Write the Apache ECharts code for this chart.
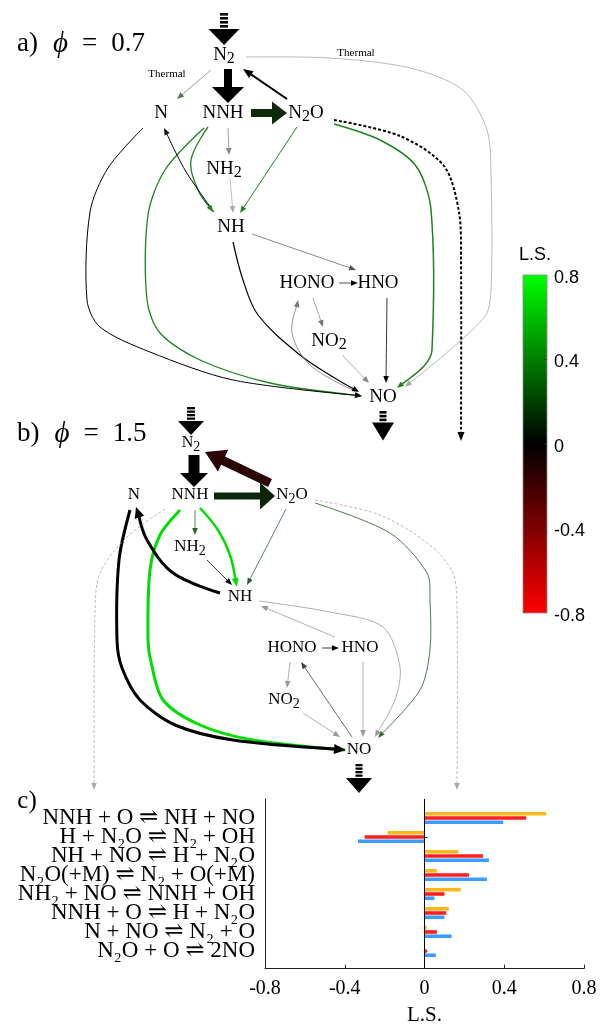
<!DOCTYPE html>
<html>
<head>
<meta charset="utf-8">
<script src="https://cdn.jsdelivr.net/npm/echarts@6/dist/echarts.min.js"></script>
<style>
html,body{margin:0;padding:0;background:#fff}
#main{width:600px;height:1028px}
</style>
</head>
<body>
<div id="main"></div>
<script>
// panel c data
var reactions = ['NNH + O ⇌ NH + NO', 'H + N₂O ⇌ N₂ + OH', 'NH + NO ⇌ H + N₂O', 'N₂O(+M) ⇌ N₂ + O(+M)',
  'NH₂ + NO ⇌ NNH + OH', 'NNH + O ⇌ H + N₂O', 'N + NO ⇌ N₂ + O', 'N₂O + O ⇌ 2NO'];
var lsYellow = [0.61, -0.185, 0.17, 0.062, 0.182, 0.122, 0.012, 0.002];
var lsRed = [0.51, -0.30, 0.293, 0.223, 0.10, 0.109, 0.062, 0.012];
var lsBlue = [0.395, -0.334, 0.323, 0.313, 0.05, 0.10, 0.136, 0.057];
var lsTicks = [-0.8, -0.4, 0, 0.4, 0.8];
var cbTicks = [0.8, 0.4, 0, -0.4, -0.8];

var SERIF = '"Liberation Serif", "DejaVu Serif", serif';
var SANS = '"Liberation Sans", Arial, sans-serif';
var G = [];
var ctx = document.createElement('canvas').getContext('2d');

// species label, digits set as lowered subscripts
function node(x, y, lab, size) {
  var parts = lab.split(/(\d)/).filter(Boolean);
  var sub = Math.round(size * 0.85);
  var w = parts.map(function (p) {
    ctx.font = (/\d/.test(p) ? sub : size) + 'px ' + SERIF;
    return ctx.measureText(p).width;
  });
  var cx = x - w.reduce(function (a, b) { return a + b; }, 0) / 2;
  parts.forEach(function (p, i) {
    var d = /\d/.test(p);
    G.push({type: 'text', x: cx, y: y + (d ? 4 : 0), z: 20, style: {text: p, font: (d ? sub : size) + 'px ' + SERIF,
      fill: '#000', align: 'left', textAlign: 'left', verticalAlign: 'middle', textVerticalAlign: 'middle'}});
    cx += w[i];
  });
}
function label(x, y, s, size, fam, align) {
  G.push({type: 'text', x: x, y: y, z: 20, style: {text: s, font: size + 'px ' + (fam || SERIF), fill: '#000',
    align: align || 'center', textAlign: align || 'center', verticalAlign: 'middle', textVerticalAlign: 'middle'}});
}
function head(p0, p1, color, L, W) {
  var dx = p1[0] - p0[0], dy = p1[1] - p0[1], d = Math.hypot(dx, dy), ux = dx / d, uy = dy / d;
  var bx = p1[0] - ux * L, by = p1[1] - uy * L;
  G.push({type: 'polygon', z: 6, shape: {points: [[p1[0], p1[1]], [bx - uy * W, by + ux * W], [bx + uy * W, by - ux * W]]},
    style: {fill: color}});
}
function edge(pts, color, w, o) {
  o = o || {};
  var L = o.L || 7, W = o.W || 2.8;
  var p = pts.slice();
  if (o.head !== false) {
    var a = p[p.length - 2], b = p[p.length - 1];
    var dx = b[0] - a[0], dy = b[1] - a[1], d = Math.hypot(dx, dy);
    p[p.length - 1] = [b[0] - dx / d * L * 0.7, b[1] - dy / d * L * 0.7];
  }
  G.push({type: 'polyline', z: 5, shape: {points: p, smooth: o.smooth == null ? 0.35 : o.smooth},
    style: {stroke: color, lineWidth: w, fill: 'none', lineDash: o.dash || null}});
  if (o.head !== false) head(pts[pts.length - 2], pts[pts.length - 1], o.hc || color, L, W);
}
function block(x0, y0, x1, y1, sw, hw, hl, color) {
  var dx = x1 - x0, dy = y1 - y0, d = Math.hypot(dx, dy), ux = dx / d, uy = dy / d, nx = -uy, ny = ux;
  var bx = x1 - ux * hl, by = y1 - uy * hl, s = sw / 2, h = hw / 2;
  G.push({type: 'polygon', z: 7, shape: {points: [
    [x0 + nx * s, y0 + ny * s], [bx + nx * s, by + ny * s], [bx + nx * h, by + ny * h], [x1, y1],
    [bx - nx * h, by - ny * h], [bx - nx * s, by - ny * s], [x0 - nx * s, y0 - ny * s]]}, style: {fill: color}});
}
function flow(cx, top, bw, n, barH, gap, tw, th) {
  for (var i = 0; i < n; i++) {
    G.push({type: 'rect', z: 7, shape: {x: cx - bw / 2, y: top + i * (barH + gap), width: bw, height: barH}, style: {fill: '#000'}});
  }
  var t0 = top + n * (barH + gap);
  G.push({type: 'polygon', z: 7, shape: {points: [[cx - tw / 2, t0], [cx + tw / 2, t0], [cx, t0 + th]]}, style: {fill: '#000'}});
}
function panelLabel(x, y, letter, val) {
  G.push({type: 'text', x: x, y: y, z: 20, style: {
    text: '{t|' + letter + ')}{i|ϕ}{e|=}{v|' + val + '}', align: 'left', textAlign: 'left', verticalAlign: 'middle', textVerticalAlign: 'middle', fill: '#000',
    rich: {
      t: {fontFamily: SERIF, fontSize: 27, padding: [0, 15, 0, 0]},
      i: {fontFamily: SERIF, fontSize: 29, fontStyle: 'italic', padding: [0, 14, 0, 0]},
      e: {fontFamily: SERIF, fontSize: 27, padding: [0, 14, 0, 0]},
      v: {fontFamily: SERIF, fontSize: 27}
    }}});
}

var GR = '#1e821e', LG = '#00dd00', DG = '#2f5f2f';

// ---------- panel a ----------
panelLabel(17, 44, 'a', '0.7');
flow(224, 13, 8, 4, 2.6, 1.4, 31, 16);
block(228, 69, 228, 103, 8, 32, 16, '#000');
block(251, 113, 287, 113, 8, 23, 15, '#0f2a0a');
edge([[287, 99], [243, 69]], '#000', 2, {L: 10, W: 4});
edge([[211, 70], [177, 99]], '#4d7a4d', 0.7);
edge([[246, 57], [330, 58], [410, 68], [463, 90], [487, 130], [491, 175], [491, 290], [484, 318], [405, 387]], '#a8a8a8', 0.8, {smooth: 0.3});
edge([[334, 124], [380, 140], [416, 166], [431, 210], [432, 350], [424, 366], [397, 388]], GR, 1.5, {smooth: 0.3});
edge([[334, 120], [400, 136], [444, 166], [459, 212], [461, 260], [461, 441]], '#000', 2, {dash: [3, 2], smooth: 0.3, L: 9, W: 3.5});
edge([[297, 127], [240, 213]], GR, 1);
edge([[228, 128], [229, 155]], '#888', 0.8);
edge([[230, 178], [233, 213]], '#aaa', 0.8);
edge([[208, 127], [191, 160], [198, 190], [213, 212]], GR, 1.3);
edge([[204, 128], [165, 170], [148, 215], [147, 300], [160, 333], [200, 360], [270, 383], [362, 396]], GR, 1.3, {smooth: 0.3});
edge([[214, 212], [185, 170], [164, 128]], '#000', 1);
edge([[143, 128], [108, 168], [90, 212], [87, 300], [100, 327], [150, 352], [233, 380], [362, 396]], '#000', 1, {smooth: 0.3});
edge([[233, 242], [243, 280], [258, 315], [300, 355], [333, 377], [359, 392]], '#000', 1.2);
edge([[252, 234], [356, 270]], '#555', 0.7);
edge([[339, 283], [358, 283]], '#000', 0.7);
edge([[313, 298], [323, 327]], '#777', 0.7);
edge([[342, 355], [369, 383]], '#888', 0.7);
edge([[387, 298], [386, 383]], '#000', 0.8);
edge([[353, 390], [310, 365], [292, 333], [298, 300]], '#777', 0.8);
flow(383, 411, 7, 3, 2.6, 1.2, 22, 18);
node(224, 55, 'N2', 19);
node(161, 113, 'N', 19);
node(223, 113, 'NNH', 19);
node(306, 113, 'N2O', 19);
node(224, 169, 'NH2', 19);
node(231, 227, 'NH', 19);
node(307, 283, 'HONO', 19);
node(378, 283, 'HNO', 19);
node(329, 341, 'NO2', 19);
node(383, 397, 'NO', 19);
label(167, 74, 'Thermal', 11);
label(356, 53, 'Thermal', 11);

// ---------- panel b ----------
panelLabel(17, 434, 'b', '1.5');
flow(191, 407, 8, 4, 2.3, 1.2, 26, 14);
block(194, 455, 194, 487, 11, 28, 14, '#000');
block(270, 483, 205, 452, 9, 24, 20, '#2b0606');
block(214, 496, 275, 496, 7, 27, 15, '#0c260c');
edge([[195, 510], [195, 535]], DG, 0.8);
edge([[200, 508], [218, 530], [230, 555], [237, 587]], LG, 2.5, {L: 9, W: 3.5});
edge([[180, 510], [160, 535], [150, 570], [148, 640], [151, 662], [163, 700], [200, 725], [253, 740], [345, 750]], LG, 3, {head: false, smooth: 0.3});
edge([[286, 509], [247, 585]], DG, 0.8);
edge([[207, 560], [232, 585]], '#000', 0.8);
edge([[220, 593], [173, 573], [147, 540], [136, 507]], '#000', 3, {L: 11, W: 5});
edge([[130, 510], [119, 560], [117, 640], [122, 668], [140, 700], [175, 725], [233, 740], [346, 750]], '#000', 3, {L: 12, W: 5, smooth: 0.3});
edge([[165, 509], [127, 537], [100, 573], [95, 610], [94, 790]], '#aaa', 0.8, {dash: [3, 2], smooth: 0.3});
edge([[315, 500], [380, 515], [430, 545], [453, 573], [457, 605], [457, 790]], '#aaa', 0.8, {dash: [3, 2], smooth: 0.3});
edge([[315, 503], [390, 533], [427, 573], [430, 600], [430, 650], [420, 690], [378, 738]], '#3a6a3a', 0.9, {smooth: 0.3});
edge([[259, 601], [330, 612], [383, 627], [400, 667], [395, 700], [375, 737]], '#999', 0.8, {smooth: 0.3});
edge([[335, 637], [261, 606]], '#999', 0.8);
edge([[322, 648], [339, 648]], '#000', 0.8);
edge([[290, 662], [287, 688]], '#999', 0.8);
edge([[352, 737], [301, 662]], '#444', 0.8);
edge([[363, 662], [363, 737]], '#999', 0.8);
edge([[303, 713], [340, 737]], '#999', 0.8);
flow(359, 764, 7, 4, 2.3, 1.2, 26, 15);
node(191, 443, 'N2', 16);
node(134, 495, 'N', 17);
node(190, 495, 'NNH', 17);
node(292, 495, 'N2O', 17);
node(190, 547, 'NH2', 17);
node(240, 597, 'NH', 17);
node(292, 648, 'HONO', 17);
node(360, 648, 'HNO', 17);
node(284, 700, 'NO2', 17);
node(359, 750, 'NO', 17);

// ---------- colorbar ----------
var cbX = 523, cbTop = 275, cbH = 338, cbW = 24;
G.push({type: 'rect', z: 5, shape: {x: cbX, y: cbTop, width: cbW, height: cbH},
  style: {stroke: '#8c8c8c', lineWidth: 0.8,
    fill: new echarts.graphic.LinearGradient(0, 0, 0, 1, [{offset: 0, color: '#00ff00'}, {offset: 0.5, color: '#000000'}, {offset: 1, color: '#ff0000'}])}});
cbTicks.forEach(function (v) {
  var y = cbTop + (0.8 - v) / 1.6 * cbH;
  if (v !== 0.8 && v !== -0.8) {
    G.push({type: 'line', z: 6, shape: {x1: cbX + cbW - 3, y1: y, x2: cbX + cbW, y2: y}, style: {stroke: '#333', lineWidth: 0.8}});
  }
  label(cbX + cbW + 7, y + 3, v === 0 ? '0' : String(v), 18, SANS, 'left');
});
label(535, 255, 'L.S.', 18, SANS);

// ---------- panel c ----------
label(27, 801, 'c)', 25);

var chart = echarts.init(document.getElementById('main'));
chart.setOption({
  animation: false,
  backgroundColor: '#fff',
  graphic: {elements: G},
  grid: [
    {left: 265, right: 16, top: 808.5, bottom: 67.5},
    {left: 265, right: 16, top: 799, bottom: 59.3}
  ],
  xAxis: [
    {gridIndex: 0, type: 'value', min: -0.8, max: 0.8, show: false},
    {gridIndex: 1, type: 'value', min: -0.8, max: 0.8, interval: 0.4,
      axisLine: {lineStyle: {color: '#222', width: 1}},
      axisTick: {inside: true, length: 4, lineStyle: {color: '#222'}},
      splitLine: {show: false},
      axisLabel: {color: '#000', fontFamily: SERIF, fontSize: 20, margin: 10,
        formatter: function (v) { return v === 0 ? '0' : v.toFixed(1); }},
      name: 'L.S.', nameLocation: 'middle', nameGap: 36,
      nameTextStyle: {color: '#000', fontFamily: SERIF, fontSize: 21}}
  ],
  yAxis: [
    {gridIndex: 0, type: 'category', inverse: true, data: reactions,
      axisLine: {show: false},
      axisTick: {show: true, inside: true, length: 3, alignWithLabel: true, lineStyle: {color: '#222'}},
      axisLabel: {color: '#000', fontFamily: SERIF, fontSize: 23, margin: 10, interval: 0, hideOverlap: false}},
    {gridIndex: 1, type: 'value', min: 0, max: 1,
      axisLine: {show: true, onZero: false, lineStyle: {color: '#222', width: 1}},
      axisTick: {show: false}, axisLabel: {show: false}, splitLine: {show: false}}
  ],
  series: [
    {type: 'bar', xAxisIndex: 0, yAxisIndex: 0, data: lsYellow, barWidth: 3.6, barGap: '18%', itemStyle: {color: '#fdb71a'}},
    {type: 'bar', xAxisIndex: 0, yAxisIndex: 0, data: lsRed, barWidth: 3.6, barGap: '18%', itemStyle: {color: '#ff1f1f'}},
    {type: 'bar', xAxisIndex: 0, yAxisIndex: 0, data: lsBlue, barWidth: 3.6, barGap: '18%', itemStyle: {color: '#3c9bff'}},
    {type: 'line', xAxisIndex: 1, yAxisIndex: 1, data: [[0, 0], [0, 1]], symbol: 'none',
      lineStyle: {color: '#000', width: 1}, silent: true}
  ]
});
</script>
</body>
</html>
